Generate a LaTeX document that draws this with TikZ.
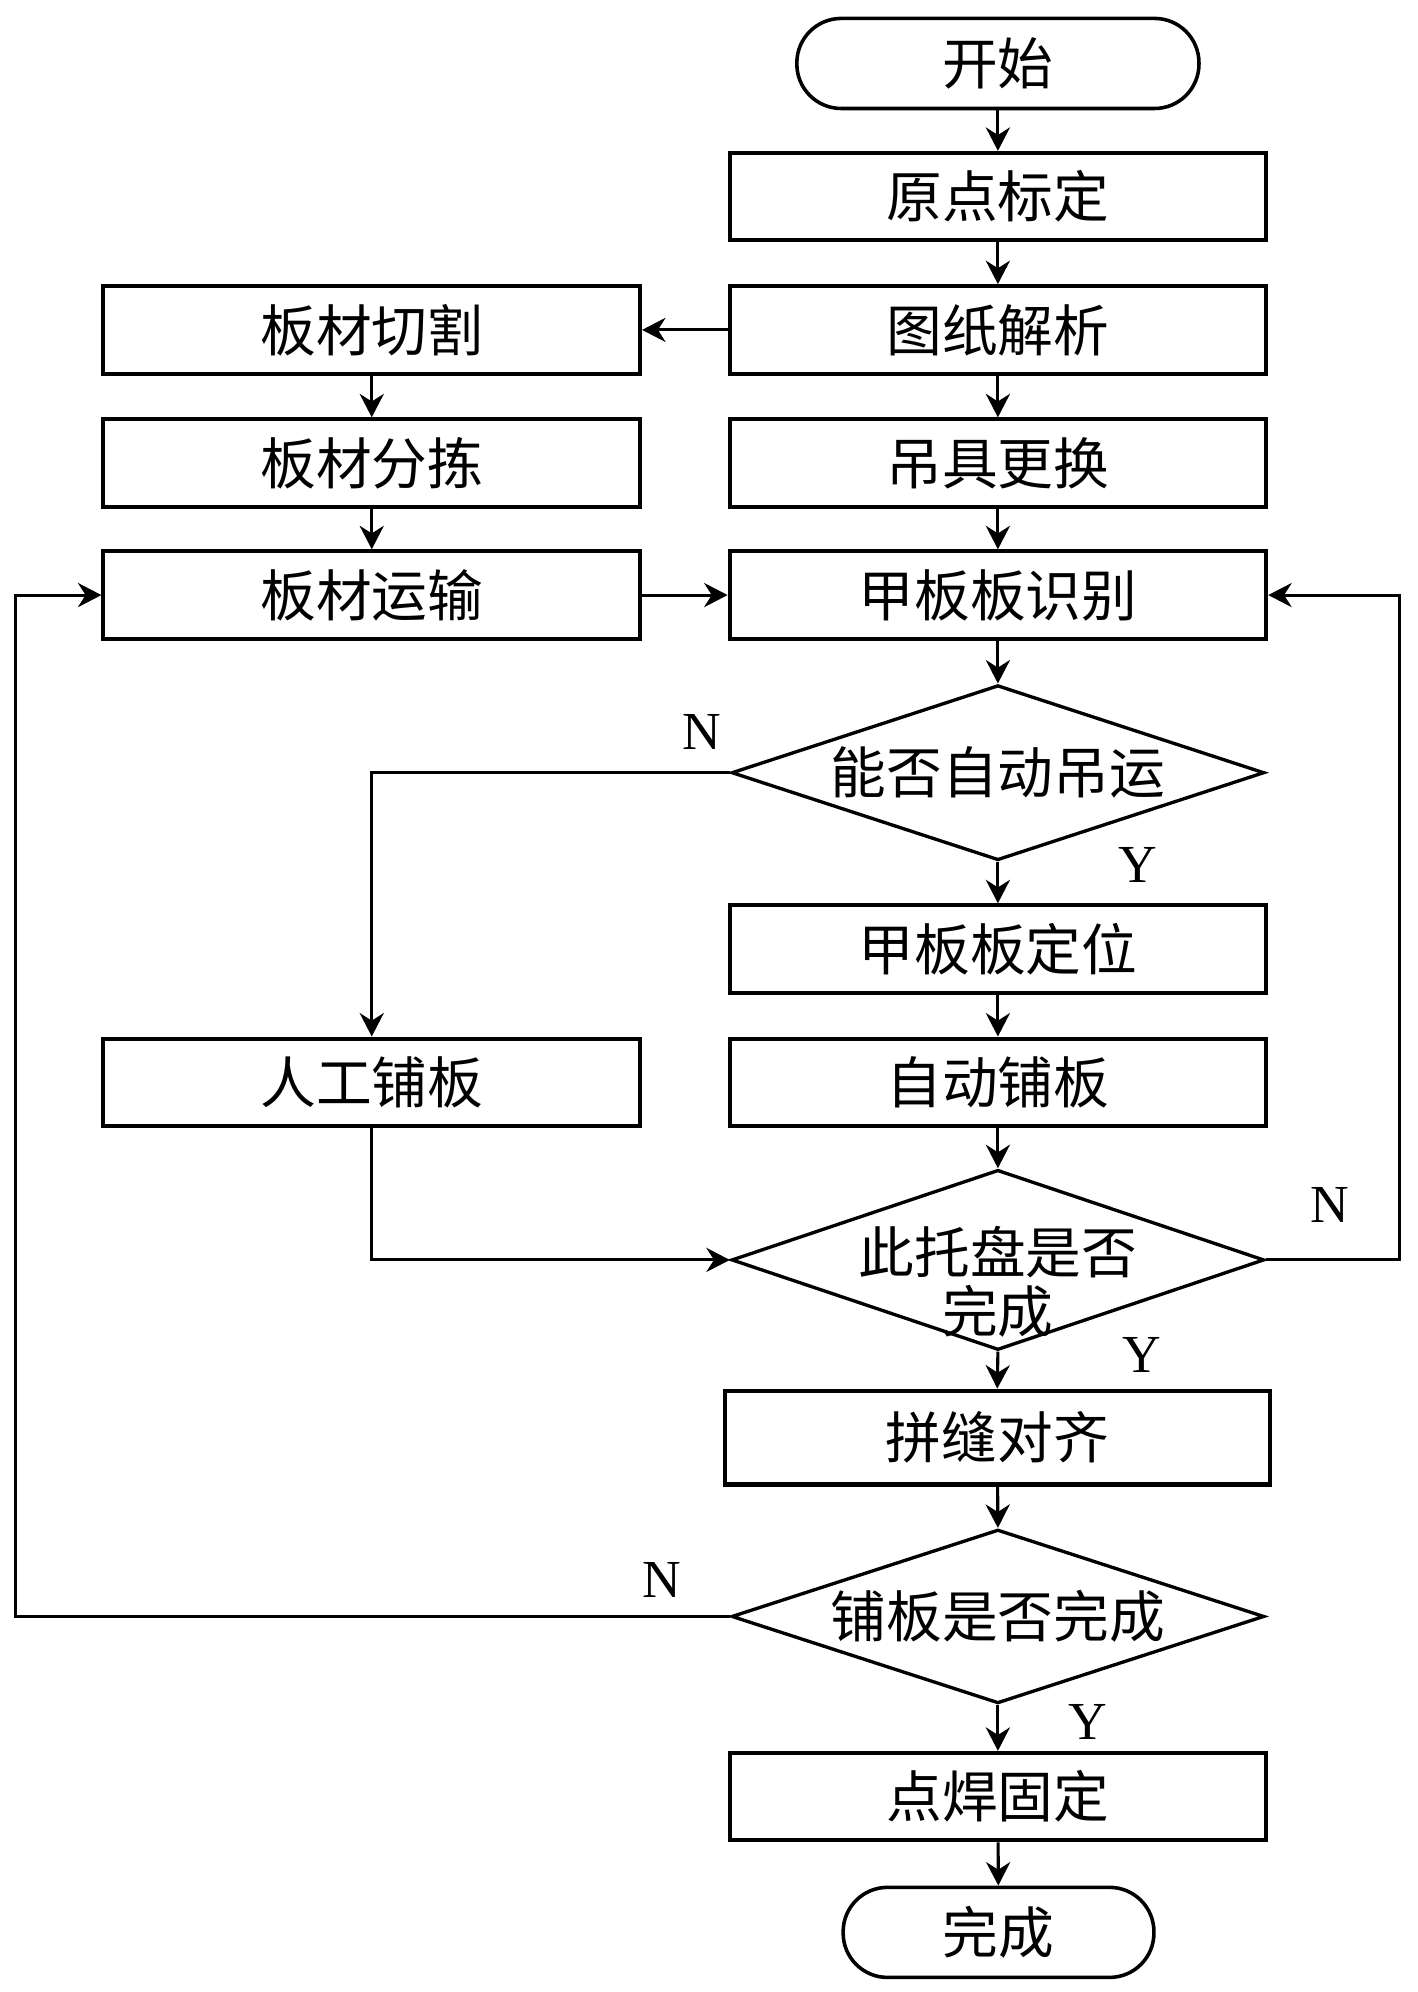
\documentclass[tikz,border=0pt]{standalone}
\usepackage{fontspec}
\setmainfont{Noto Sans CJK SC}
\newfontfamily\latf{Liberation Serif}
\usetikzlibrary{shapes.geometric,arrows.meta}
\begin{document}
\begin{tikzpicture}[x=0.02cm,y=-0.02cm,
 every node/.style={font=\fontsize{25}{30}\selectfont},
 box/.style={draw, line width=1.8pt, minimum width=8.46cm, minimum height=1.38cm, inner sep=0pt},
 term/.style={draw, line width=1.6pt, rounded corners=0.7cm, minimum height=1.42cm, inner sep=0pt},
 dia/.style={draw, line width=1.5pt, diamond, minimum width=8.4cm, minimum height=2.76cm, inner sep=0pt, shape aspect=3},
 lab/.style={font=\latf\fontsize{24}{28}\selectfont},
 arr/.style={line width=1.4pt, -{Stealth[length=0.37cm,width=0.38cm,inset=0.12cm]}}]
\useasboundingbox (0,0) rectangle (1117,1570);
\node[term, minimum width=6.34cm] (start) at (786.5,50) {开始};
\node[box] (b1) at (786.5,155) {原点标定};
\node[box] (b2) at (786.5,260) {图纸解析};
\node[box] (b3) at (786.5,365) {吊具更换};
\node[box] (b4) at (786.5,469) {甲板板识别};
\node[dia] (d1) at (786.5,609) {};
\node (t1) at (d1) {能否自动吊运};
\node[box] (b5) at (786.5,748) {甲板板定位};
\node[box] (b6) at (786.5,853) {自动铺板};
\node[dia, minimum height=2.84cm] (d2) at (786.5,993) {};
\node[align=center] (t2) at (786.5,1010) {此托盘是否\\[-0.13cm]完成};
\node[box, minimum width=8.6cm, minimum height=1.48cm] (b7) at (786,1133) {拼缝对齐};
\node[dia, minimum height=2.74cm] (d3) at (786.5,1274) {};
\node (t3) at (d3) {铺板是否完成};
\node[box] (b8) at (786.5,1416) {点焊固定};
\node[term, minimum width=4.9cm] (end) at (787,1523) {完成};
\node[box] (l1) at (293,260) {板材切割};
\node[box] (l2) at (293,365) {板材分拣};
\node[box] (l3) at (293,469) {板材运输};
\node[box] (l4) at (293,853) {人工铺板};
\coordinate (rr) at (1103,993);
\coordinate (ll) at (12,1274);
\draw[arr] (start) -- (b1);
\draw[arr] (b1) -- (b2);
\draw[arr] (b2) -- (b3);
\draw[arr] (b3) -- (b4);
\draw[arr] (b4) -- (d1.north);
\draw[arr] (b2.west) -- (l1.east);
\draw[arr] (l1) -- (l2);
\draw[arr] (l2) -- (l3);
\draw[arr] (l3.east) -- (b4.west);
\draw[arr] (d1.west) -| (l4.north);
\draw[arr] (d1.south) -- (b5.north);
\draw[arr] (b5) -- (b6);
\draw[arr] (b6) -- (d2.north);
\draw[arr] (l4.south) |- (d2.west);
\draw[arr] (d2.east) -- (rr) |- (b4.east);
\draw[arr] (d2.south) -- (b7.north);
\draw[arr] (b7) -- (d3.north);
\draw[arr] (d3.west) -- (ll) |- (l3.west);
\draw[arr] (d3.south) -- (b8.north);
\draw[arr] (b8) -- (end);
\node[lab] (n1) at (553,577) {N};
\node[lab] (y1) at (897,682) {Y};
\node[lab] (n2) at (1048,950) {N};
\node[lab] (y2) at (900,1068) {Y};
\node[lab] (n3) at (522,1245) {N};
\node[lab] (y3) at (857,1357) {Y};
\end{tikzpicture}
\end{document}
